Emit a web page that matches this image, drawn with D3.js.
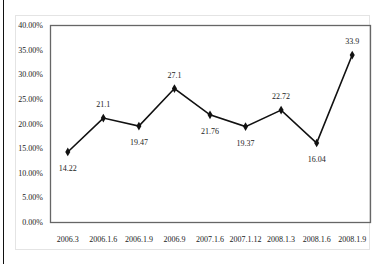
<!DOCTYPE html>
<html><head><meta charset="utf-8">
<script src="https://cdn.jsdelivr.net/npm/d3@7"></script>
<style>html,body{margin:0;padding:0;background:#fff;}svg{display:block;}</style>
</head><body>
<script>
const categories = ["2006.3","2006.1.6","2006.1.9","2006.9","2007.1.6","2007.1.12","2008.1.3","2008.1.6","2008.1.9"];
const values = [14.22, 21.1, 19.47, 27.1, 21.76, 19.37, 22.72, 16.04, 33.9];
const yTicks = [0, 5, 10, 15, 20, 25, 30, 35, 40];

const W = 378, H = 264;
const svg = d3.select("body").append("svg").attr("width", W).attr("height", H);
const m = {left: 50, right: 8, top: 25, bottom: 42};

// outer frame
svg.append("line").attr("x1", 3.5).attr("x2", 3.5).attr("y1", 0).attr("y2", H)
  .attr("stroke", "#111").attr("stroke-width", 1);
svg.append("rect").attr("x", 15.5).attr("y", 15.5).attr("width", 354).attr("height", 234)
  .attr("fill", "none").attr("stroke", "#e4e4e4").attr("stroke-width", 1);

const x = d3.scaleBand().domain(categories).range([m.left, W - m.right]);
const y = d3.scaleLinear().domain([0, 40]).range([H - m.bottom, m.top]);

// plot box
svg.append("rect").attr("x", m.left + 0.5).attr("y", m.top + 0.5)
  .attr("width", W - m.right - m.left).attr("height", H - m.bottom - m.top)
  .attr("fill", "none").attr("stroke", "#666").attr("stroke-width", 1.3);

const font = "'Liberation Serif', serif";
const yAxis = svg.append("g").attr("transform", `translate(${m.left},0)`)
  .call(d3.axisLeft(y).tickValues(yTicks).tickSize(0).tickPadding(7)
    .tickFormat(d => d3.format(".2f")(d) + "%"));
yAxis.select(".domain").remove();
yAxis.selectAll("text").attr("font-family", font).attr("font-size", 8).attr("fill", "#222");

const xAxis = svg.append("g").attr("transform", `translate(0,${H - m.bottom})`)
  .call(d3.axisBottom(x).tickSize(0).tickPadding(14));
xAxis.select(".domain").remove();
xAxis.selectAll("text").attr("font-family", font).attr("font-size", 8).attr("fill", "#222");

const cx = (d, i) => x(categories[i]) + x.bandwidth() / 2;
const line = d3.line().x((d, i) => cx(d, i)).y(d => y(d));
svg.append("path").datum(values).attr("d", line)
  .attr("fill", "none").attr("stroke", "#111").attr("stroke-width", 1.6);

const sym = d3.symbol().type(d3.symbolDiamond).size(22);
svg.selectAll(".pt").data(values).enter().append("path")
  .attr("transform", (d, i) => `translate(${cx(d, i)},${y(d)})`)
  .attr("d", sym).attr("fill", "#111");

// label above if the point is higher than its neighbours' mean
function above(i) {
  const nb = [];
  if (i > 0) nb.push(values[i - 1]);
  if (i < values.length - 1) nb.push(values[i + 1]);
  return values[i] > d3.mean(nb);
}
svg.selectAll(".lbl").data(values).enter().append("text")
  .attr("x", (d, i) => cx(d, i))
  .attr("y", (d, i) => above(i) ? y(d) - 11 : y(d) + 19)
  .attr("text-anchor", "middle")
  .attr("font-family", font).attr("font-size", 8).attr("fill", "#222")
  .text(d => String(d));
</script>
</body></html>
